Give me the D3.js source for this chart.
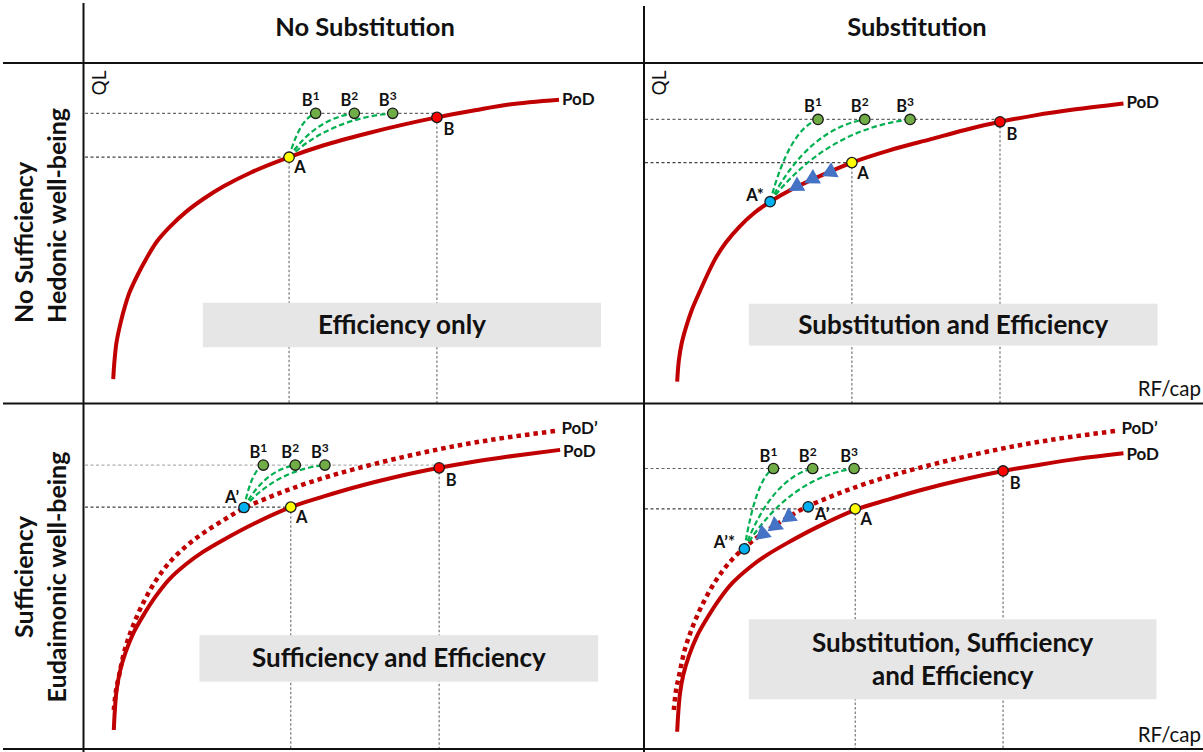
<!DOCTYPE html>
<html>
<head>
<meta charset="utf-8">
<script src="https://cdn.jsdelivr.net/npm/d3@7"></script>
<style>
  html, body { margin: 0; padding: 0; background: #fff; }
  svg { display: block; font-family: Lato, "Open Sans", sans-serif; }
</style>
</head>
<body>
<svg id="chart"></svg>
<script>
// ---- data (RF/cap on x, QL on y, both 0-100 per panel) ----
const columnHeaders = ["No Substitution", "Substitution"];
const rowHeaders = [["No Sufficiency", "Hedonic well-being"], ["Sufficiency", "Eudaimonic well-being"]];
const panelTitles = [
    ["Efficiency only"],
    ["Substitution and Efficiency"],
    ["Sufficiency and Efficiency"],
    ["Substitution, Sufficiency", "and Efficiency"]
];

// possibility of development frontier
const podTopLeft = [[5.4, 7], [5.6, 12], [6.0, 18], [6.7, 23.5], [7.5, 28.5], [8.3, 32.5], [9.7, 37.5],
    [11.25, 42.3], [13.2, 47.5], [15.5, 51.8], [18.6, 56.5], [21.75, 60.3], [25.2, 63.8], [30, 67.8],
    [36.8, 72.3], [43, 75.8], [50.5, 79.2], [57, 81.8], [63.2, 84], [70, 86.1], [76.1, 87.8], [85, 89.2]];
const podTopRight = [[6.1, 6.3], [6.4, 12.5], [6.9, 17.5], [7.7, 22.4], [8.7, 27.3], [10, 32.3], [12.8, 42.1],
    [14.8, 47.2], [17.25, 51.9], [19.8, 55.8], [22.7, 59.2], [26.5, 62.8], [31, 66.3], [37.3, 70.7],
    [44, 74.3], [51.4, 77.6], [57.5, 80.3], [63.75, 82.7], [70, 84.6], [76.9, 86.3], [85.8, 88.1]];
const podBottomLeft = [[5.5, 5.5], [5.7, 11.5], [6.0, 17], [6.6, 22.5], [7.6, 28], [9, 33.6], [10.8, 38.8],
    [13, 44.3], [15.4, 49.2], [18.5, 53.7], [21.5, 57.2], [25.05, 60.6], [30.5, 65.3], [37.1, 70.1],
    [43, 73.2], [48.9, 76], [56, 78.9], [63.6, 81.5], [69.5, 83.2], [75.7, 84.7], [85.2, 86.7]];
const podBottomRight = [[6.1, 5], [6.3, 10.5], [6.6, 16], [7.2, 21.5], [8.2, 27], [9.6, 32.6], [11.4, 37.8],
    [13.6, 43.3], [16, 48.2], [19.1, 52.7], [22.1, 56.2], [25.65, 59.6], [31.1, 64.3], [37.9, 69.3],
    [43.6, 72.2], [49.5, 75], [56.6, 77.9], [64.3, 80.6], [70.1, 82.2], [76.3, 83.8], [85.8, 85.7]];
// shifted frontier PoD' (sufficiency)
const podPrime = [[5.5, 11.3], [5.9, 17], [6.4, 21], [7.5, 29], [9, 36], [10.8, 42.5], [13, 48.8],
    [15.4, 54], [18.5, 58.9], [21.5, 62.6], [25.05, 66.3], [28.75, 69.8], [33, 72.8], [37.1, 75.4],
    [43, 78.6], [48.9, 81.3], [56, 84.2], [63.6, 86.9], [69.5, 88.7], [75.7, 90.3], [84.9, 92.3]];

const pointsTopLeft = [
    { name: "A", rf: 36.8, ql: 72.3 },
    { name: "B", rf: 63.2, ql: 84.0 },
    { name: "B1", rf: 41.55, ql: 85.2 },
    { name: "B2", rf: 48.45, ql: 85.2 },
    { name: "B3", rf: 55.3, ql: 85.2 }
];
const pointsTopRight = [
    { name: "A", rf: 37.3, ql: 70.7 },
    { name: "B", rf: 63.75, ql: 82.7 },
    { name: "A*", rf: 22.7, ql: 59.2 },
    { name: "B1", rf: 31.25, ql: 83.4 },
    { name: "B2", rf: 39.6, ql: 83.4 },
    { name: "B3", rf: 47.7, ql: 83.4 }
];
const pointsBottomLeft = [
    { name: "A", rf: 37.1, ql: 70.1 },
    { name: "B", rf: 63.6, ql: 81.5 },
    { name: "A’", rf: 28.75, ql: 70.0 },
    { name: "B1", rf: 32.2, ql: 82.3 },
    { name: "B2", rf: 37.9, ql: 82.3 },
    { name: "B3", rf: 43.2, ql: 82.3 }
];
const pointsBottomRight = [
    { name: "A", rf: 37.9, ql: 69.6 },
    { name: "B", rf: 64.3, ql: 80.6 },
    { name: "A’", rf: 29.5, ql: 70.2 },
    { name: "A’*", rf: 18.1, ql: 58.0 },
    { name: "B1", rf: 23.3, ql: 81.3 },
    { name: "B2", rf: 30.3, ql: 81.3 },
    { name: "B3", rf: 37.7, ql: 81.3 }
];

// substitution steps along the frontier
const arrowsTopRight = [[27.5, 63.8], [30.3, 66.0], [33.5, 68.0]];
const arrowsBottomRight = [[21.4, 62.4], [23.6, 64.8], [26.1, 67.3]];

// ---- layout / styles ----
const W = 1203, H = 752;
const RED = "#c00000";
const pointFill = { A: "#ffff00", B: "#ff0000", B1: "#70ad47", B2: "#70ad47", B3: "#70ad47",
    "A*": "#00b0f0", "A’": "#00b0f0", "A’*": "#00b0f0" };
const defaultOffsets = { A: [11, 16], B: [12, 18], B1: [-5, -7], B2: [-5, -7], B3: [-5, -7],
    "A*": [-15, -1], "A’*": [-20, -1] };

const panels = [
    { key: "tl", left: 83, top: 63, bottom: 403, pod: podTopLeft, prime: null, points: pointsTopLeft,
      origin: "A", arrows: [], title: panelTitles[0], box: [21.4, 92.5, 16.4, 29.5], ql: true, rf: false,
      upperGuide: "#666", offsets: {} },
    { key: "tr", left: 643, top: 63, bottom: 403, pod: podTopRight, prime: null, points: pointsTopRight,
      origin: "A*", arrows: arrowsTopRight, title: panelTitles[1], box: [18.9, 91.9, 16.9, 29.2], ql: true, rf: true,
      upperGuide: "#666", offsets: {} },
    { key: "bl", left: 83, top: 404, bottom: 749, pod: podBottomLeft, prime: podPrime, points: pointsBottomLeft,
      origin: "A’", arrows: [], title: panelTitles[2], box: [20.8, 92.0, 19.5, 33.0], ql: false, rf: false,
      upperGuide: "#b0b0b0", offsets: { "A’": [-12, -5] } },
    { key: "br", left: 643, top: 404, bottom: 749, pod: podBottomRight, prime: podPrime, points: pointsBottomRight,
      origin: "A’*", arrows: arrowsBottomRight, title: panelTitles[3], box: [18.9, 91.7, 14.4, 37.6], ql: false, rf: true,
      upperGuide: "#666", offsets: { "A’": [14, 13] } }
];

const svg = d3.select("#chart").attr("width", W).attr("height", H);

// column and row headers
svg.selectAll("text.col-header")
    .data(columnHeaders)
    .join("text")
    .attr("class", "col-header")
    .attr("x", (d, i) => i === 0 ? 365 : 917)
    .attr("y", 36)
    .attr("text-anchor", "middle")
    .attr("font-size", 25.5)
    .attr("font-weight", 700)
    .attr("fill", "#111")
    .text(d => d);

// top row labels start at the same point, bottom row labels are centred
rowHeaders.forEach((lines, r) => {
    lines.forEach((line, j) => {
        svg.append("text")
            .attr("transform", `translate(${j === 0 ? 33 : 66},${r === 0 ? 323 : 577}) rotate(-90)`)
            .attr("text-anchor", r === 0 ? "start" : "middle")
            .attr("font-size", 25)
            .attr("font-weight", 700)
            .attr("fill", "#111")
            .text(line);
    });
});

function drawPanel(p) {
    const x = d3.scaleLinear().domain([0, 100]).range([p.left, p.left + 560]);
    const y = d3.scaleLinear().domain([0, 100]).range([p.bottom, p.top]);
    const g = svg.append("g").attr("class", "panel-" + p.key);
    const find = name => p.points.find(d => d.name === name);
    const A = find("A"), B = find("B"), origin = find(p.origin);
    const targets = p.points.filter(d => /^B\d$/.test(d.name));

    // dashed guide lines
    const guides = g.append("g").attr("fill", "none").attr("stroke-width", 1.2);
    guides.append("line")
        .attr("x1", x(0) + 2).attr("x2", x(B.rf))
        .attr("y1", y(targets[0].ql)).attr("y2", y(targets[0].ql))
        .attr("stroke", p.upperGuide).attr("stroke-dasharray", "3 2.5");
    guides.append("line")
        .attr("x1", x(0) + 2).attr("x2", x(A.rf))
        .attr("y1", y(A.ql)).attr("y2", y(A.ql))
        .attr("stroke", "#444").attr("stroke-dasharray", "3 2.5");
    guides.selectAll("line.drop")
        .data([A, B])
        .join("line")
        .attr("class", "drop")
        .attr("x1", d => x(d.rf)).attr("x2", d => x(d.rf))
        .attr("y1", d => y(d.ql)).attr("y2", y(0))
        .attr("stroke", "#777").attr("stroke-dasharray", "2.5 2");

    // title box
    const bx0 = x(p.box[0]), bx1 = x(p.box[1]), by0 = y(p.box[3]), by1 = y(p.box[2]);
    g.append("rect")
        .attr("x", bx0).attr("y", by0)
        .attr("width", bx1 - bx0).attr("height", by1 - by0)
        .attr("fill", "#e7e6e6");
    const midY = (by0 + by1) / 2;
    g.selectAll("text.title")
        .data(p.title)
        .join("text")
        .attr("class", "title")
        .attr("x", (bx0 + bx1) / 2)
        .attr("y", (d, i) => midY + 9 + (i - (p.title.length - 1) / 2) * 33)
        .attr("text-anchor", "middle")
        .attr("font-size", 26)
        .attr("font-weight", 700)
        .attr("fill", "#111")
        .text(d => d);

    const line = d3.line()
        .x(d => x(d[0]))
        .y(d => y(d[1]))
        .curve(d3.curveCatmullRom.alpha(0.5));

    if (p.prime) {
        g.append("path")
            .attr("d", line(p.prime))
            .attr("fill", "none")
            .attr("stroke", RED)
            .attr("stroke-width", 4.5)
            .attr("stroke-dasharray", "4.5 4");
        const lastP = p.prime[p.prime.length - 1];
        g.append("text")
            .attr("x", x(lastP[0]) + 3).attr("y", y(lastP[1]) + 3)
            .attr("font-size", 17).attr("font-weight", 700).attr("fill", "#111")
            .text("PoD’");
    }

    g.append("path")
        .attr("d", line(p.pod))
        .attr("fill", "none")
        .attr("stroke", RED)
        .attr("stroke-width", 4)
        .attr("stroke-linecap", "butt");
    const last = p.pod[p.pod.length - 1];
    g.append("text")
        .attr("x", x(last[0]) + 3).attr("y", y(last[1]) + (p.prime ? 7 : 5))
        .attr("font-size", 17).attr("font-weight", 700).attr("fill", "#111")
        .text("PoD");

    // green dashed paths from the starting point to B1..B3
    g.selectAll("path.arc")
        .data(targets)
        .join("path")
        .attr("class", "arc")
        .attr("d", d => {
            const x0 = x(origin.rf), y0 = y(origin.ql), x1 = x(d.rf), y1 = y(d.ql);
            const cx = x0 + 0.4 * (x1 - x0), cy = y1 + 0.12 * (y0 - y1);
            return `M${x0},${y0}Q${cx},${cy} ${x1},${y1}`;
        })
        .attr("fill", "none")
        .attr("stroke", "#00b050")
        .attr("stroke-width", 2.2)
        .attr("stroke-dasharray", "5.5 3");

    // blue triangles pointing back along the frontier
    g.selectAll("path.arrow")
        .data(p.arrows)
        .join("path")
        .attr("class", "arrow")
        .attr("d", d3.symbol().type(d3.symbolTriangle).size(120))
        .attr("transform", d => {
            const ang = Math.atan2(y(origin.ql) - y(d[1]), x(origin.rf) - x(d[0])) * 180 / Math.PI;
            return `translate(${x(d[0])},${y(d[1])}) rotate(${ang + 90})`;
        })
        .attr("fill", "#4472c4");

    // points
    g.selectAll("circle.pt")
        .data(p.points)
        .join("circle")
        .attr("class", "pt")
        .attr("cx", d => x(d.rf))
        .attr("cy", d => y(d.ql))
        .attr("r", 5.2)
        .attr("fill", d => pointFill[d.name])
        .attr("stroke", "#1a1a1a")
        .attr("stroke-width", 1.3);

    // point labels
    const labels = g.selectAll("text.pt-label")
        .data(p.points)
        .join("text")
        .attr("class", "pt-label")
        .attr("x", d => x(d.rf) + (p.offsets[d.name] || defaultOffsets[d.name])[0])
        .attr("y", d => y(d.ql) + (p.offsets[d.name] || defaultOffsets[d.name])[1])
        .attr("text-anchor", "middle")
        .attr("font-size", 16.5)
        .attr("font-weight", 700)
        .attr("fill", "#111");
    labels.each(function(d) {
        const t = d3.select(this);
        const m = d.name.match(/^B(\d)$/);
        if (m) {
            t.append("tspan").text("B");
            t.append("tspan").attr("font-size", 12).attr("dy", -6).text(m[1]);
        } else {
            t.text(d.name);
        }
    });

    if (p.ql) {
        g.append("text")
            .attr("transform", `translate(${x(0) + 23},${p.top + 20}) rotate(-90)`)
            .attr("text-anchor", "middle")
            .attr("font-size", 19)
            .attr("fill", "#111")
            .text("QL");
    }
    if (p.rf) {
        g.append("text")
            .attr("x", W - 2)
            .attr("y", p.bottom - 7)
            .attr("text-anchor", "end")
            .attr("font-size", 20.5)
            .attr("fill", "#111")
            .text("RF/cap");
    }
}

panels.forEach(drawPanel);

// table frame
const frame = svg.append("g").attr("stroke", "#111").attr("stroke-width", 2);
frame.append("line").attr("x1", 83.5).attr("x2", 83.5).attr("y1", 3).attr("y2", H);
frame.append("line").attr("x1", 644).attr("x2", 644).attr("y1", 6).attr("y2", H);
frame.append("line").attr("x1", 3).attr("x2", W).attr("y1", 63).attr("y2", 63);
frame.append("line").attr("x1", 3).attr("x2", W).attr("y1", 403.5).attr("y2", 403.5);
frame.append("line").attr("x1", 3).attr("x2", W).attr("y1", 749).attr("y2", 749);
</script>
</body>
</html>
